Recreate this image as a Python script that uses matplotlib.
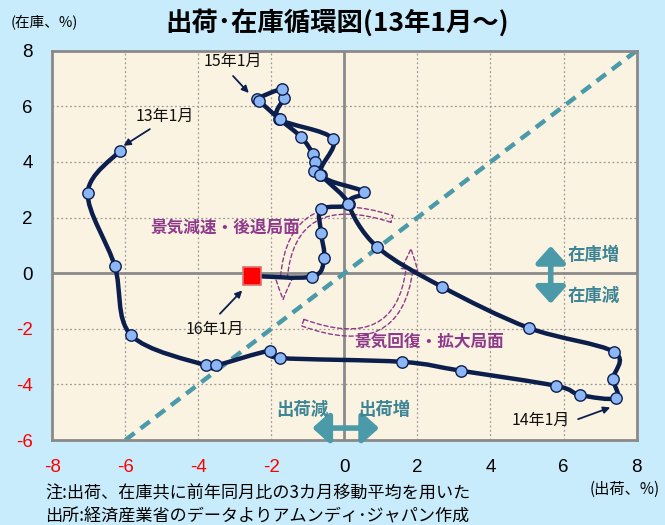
import matplotlib
matplotlib.use("Agg")
import matplotlib.pyplot as plt
from matplotlib.path import Path
from matplotlib.patches import PathPatch, FancyArrowPatch
import numpy as np

plt.rcParams['font.family'] = ['Noto Sans CJK JP', 'DejaVu Sans']

# ---- data ----
shipments = [-6.15, -7.03, -6.29, -5.85, -3.79, -3.52, -2.04, -1.77, 1.58, 3.19,
             5.79, 6.45, 7.44, 7.36, 7.38, 5.05, 2.67, 0.89, 0.12, 0.53,
             -0.64, -0.32, -1.79, -1.66, -1.71, -2.40, -2.34, -1.77, -1.19, -0.86,
             -0.81, -0.84, -0.67, 0.10, -0.64, -0.64, -0.56, -0.88]
inventory = [4.40, 2.89, 0.26, -2.22, -3.32, -3.32, -2.79, -3.05, -3.19, -3.51,
             -4.05, -4.38, -4.49, -3.80, -2.83, -1.97, -0.49, 0.95, 2.49, 2.92,
             3.54, 4.83, 5.55, 6.30, 6.62, 6.27, 6.20, 5.53, 4.90, 4.29,
             4.00, 3.68, 3.54, 2.50, 2.30, 1.45, 0.55, -0.12]
latest_ship = [-2.53]
latest_inv = [-0.10]

x_ticks = [-8, -6, -4, -2, 0, 2, 4, 6, 8]
y_ticks = [-6, -4, -2, 0, 2, 4, 6, 8]

title = "出荷･在庫循環図(13年1月～)"
y_unit = "(在庫、%)"
x_unit = "(出荷、%)"
note1 = "注:出荷、在庫共に前年同月比の3カ月移動平均を用いた"
note2 = "出所:経済産業省のデータよりアムンディ･ジャパン作成"

# ---- style ----
bg_fig = '#C8ECFB'
bg_ax = '#FBF3E1'
navy = '#0B1E4C'
marker_face = '#8DB6F6'
teal = '#4A9AA9'
teal_text = '#3D8595'
purple = '#8E3A8C'
grid_col = '#9A9A9A'
axis_col = '#8A8A8A'

fig = plt.figure(figsize=(6.65, 5.25), dpi=100, facecolor=bg_fig)
ax = fig.add_axes([0.0787, 0.1619, 0.8785, 0.7415])
ax.set_facecolor(bg_ax)
ax.set_xlim(-8, 8)
ax.set_ylim(-6, 8)

for s in ax.spines.values():
    s.set_color(axis_col)
    s.set_linewidth(2)

# grid
for gx in x_ticks[1:-1]:
    if gx != 0:
        ax.axvline(gx, color=grid_col, lw=0.9, ls=(0, (1.5, 2)), zorder=1)
for gy in y_ticks[1:-1]:
    if gy != 0:
        ax.axhline(gy, color=grid_col, lw=0.9, ls=(0, (1.5, 2)), zorder=1)
ax.axvline(0, color=axis_col, lw=2, zorder=1.5)
ax.axhline(0, color=axis_col, lw=2, zorder=1.5)

# 45-degree reference line
ax.plot([-6, 8], [-6, 8], color=teal, lw=3.2, ls=(0, (2.6, 1.7)), zorder=2)

# smoothed path (Bezier through the data points)
pts = np.column_stack([shipments + latest_ship, inventory + latest_inv])
n = len(pts)
verts = [pts[0]]
codes = [Path.MOVETO]
for i in range(n - 1):
    p0 = pts[i - 1] if i > 0 else pts[i]
    p1 = pts[i]
    p2 = pts[i + 1]
    p3 = pts[i + 2] if i + 2 < n else pts[i + 1]
    c1 = p1 + (p2 - p0) / 6.0
    c2 = p2 - (p3 - p1) / 6.0
    verts += [c1, c2, p2]
    codes += [Path.CURVE4] * 3
ax.add_patch(PathPatch(Path(verts, codes), fc='none', ec=navy, lw=3.2,
                       capstyle='round', joinstyle='round', zorder=3))
ax.plot(shipments, inventory, ls='none', marker='o', ms=8.2,
        mfc=marker_face, mec=navy, mew=1.0, zorder=4)
ax.plot(latest_ship, latest_inv, ls='none', marker='s', ms=12.5,
        mfc='#FF0000', mec='#E07070', mew=1.2, zorder=5)

# ticks
ax.set_xticks(x_ticks)
ax.set_yticks(y_ticks)
ax.tick_params(length=0, labelsize=13.5)
ax.tick_params(axis='x', pad=14)
ax.tick_params(axis='y', pad=14)
ax.set_xticklabels([str(v) for v in x_ticks], family='Liberation Sans')
ax.set_yticklabels([str(v) for v in y_ticks], family='Liberation Sans')
for lab, v in zip(ax.get_xticklabels(), x_ticks):
    lab.set_color('#FF0000' if v < 0 else 'black')
for lab, v in zip(ax.get_yticklabels(), y_ticks):
    lab.set_color('#FF0000' if v < 0 else 'black')

# date annotations
arrow_kw = dict(arrowstyle='-|>', color=navy, lw=1.3, mutation_scale=10,
                shrinkA=0, shrinkB=0)
ann = [("13年1月", (-4.92, 5.65), (-5.33, 5.18), (-6.05, 4.58)),
       ("15年1月", (-3.05, 7.60), (-3.05, 7.09), (-2.62, 6.48)),
       ("14年1月", (5.38, -5.28), (6.40, -5.25), (7.28, -4.83)),
       ("16年1月", (-3.55, -2.04), (-3.41, -1.46), (-2.80, -0.62))]
for txt, tpos, a0, a1 in ann:
    ax.text(tpos[0], tpos[1], txt, fontsize=11.5, ha='center', va='center',
            color='#111111', zorder=6)
    ax.annotate('', xy=a1, xytext=a0, arrowprops=arrow_kw, zorder=6)

# phase labels
ax.text(-3.27, 1.63, "景気減速・後退局面", fontsize=12, fontweight='bold',
        color=purple, ha='center', va='center', zorder=6)
ax.text(2.34, -2.48, "景気回復・拡大局面", fontsize=12, fontweight='bold',
        color=purple, ha='center', va='center', zorder=6)

# cycle arrows (dashed outline)
cyc_style = "simple,head_length=1.5,head_width=1.2,tail_width=0.5"
ax.add_patch(FancyArrowPatch((1.30, 1.95), (-1.68, -0.95), arrowstyle=cyc_style,
                             connectionstyle="arc3,rad=0.7", mutation_scale=10,
                             fc='none', ec=purple, lw=1.0, ls=(0, (3, 2)),
                             shrinkA=0, shrinkB=0, zorder=2.5))
ax.add_patch(FancyArrowPatch((-1.14, -1.78), (1.82, 0.88), arrowstyle=cyc_style,
                             connectionstyle="arc3,rad=0.7", mutation_scale=10,
                             fc='none', ec=purple, lw=1.0, ls=(0, (3, 2)),
                             shrinkA=0, shrinkB=0, zorder=2.5))

# inventory / shipments direction arrows
dbl = dict(arrowstyle='<|-|>,head_length=0.5,head_width=0.45', color=teal,
           lw=4, mutation_scale=20, shrinkA=0, shrinkB=0)
ax.annotate('', xy=(5.65, 0.98), xytext=(5.65, -1.10), arrowprops=dbl, zorder=6)
ax.annotate('', xy=(-0.88, -5.57), xytext=(0.95, -5.57), arrowprops=dbl, zorder=6)
for txt, pos in [("在庫増", (6.83, 0.65)), ("在庫減", (6.83, -0.82)),
                 ("出荷減", (-1.14, -4.92)), ("出荷増", (1.08, -4.92))]:
    ax.text(pos[0], pos[1], txt, fontsize=12.5, fontweight='bold', color=teal_text,
            ha='center', va='center', zorder=6)

# titles and notes
fig.text(0.507, 0.957, title, fontsize=19, fontweight='bold', ha='center',
         va='center', color='black')
fig.text(0.016, 0.957, y_unit, fontsize=10.5, ha='left', va='center')
fig.text(0.992, 0.068, x_unit, fontsize=11, ha='right', va='center')
fig.text(0.068, 0.061, note1, fontsize=12.3, ha='left', va='center')
fig.text(0.068, 0.017, note2, fontsize=12.3, ha='left', va='center')

fig.savefig("out.png", dpi=100, facecolor=bg_fig)
